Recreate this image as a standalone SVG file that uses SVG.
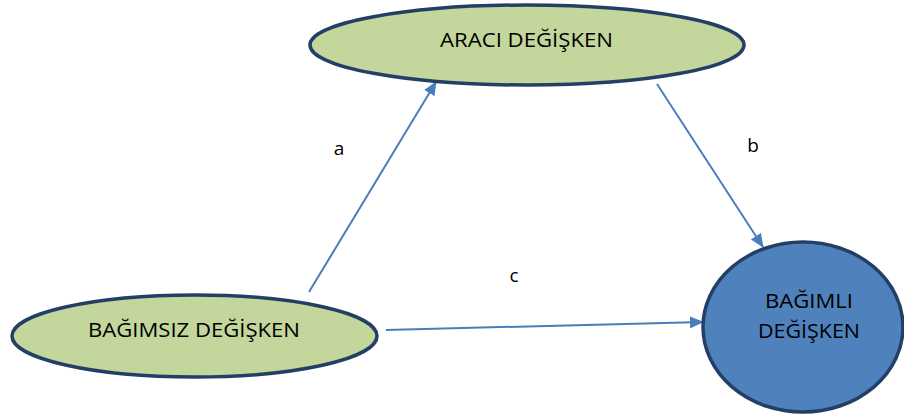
<svg xmlns="http://www.w3.org/2000/svg" width="904" height="414" viewBox="0 0 904 414">
  <style>
    .node { stroke: #243f66; stroke-width: 3.5; }
    .green { fill: #c3d69b; }
    .blue { fill: #4f81bd; }
    .label { font-family: "Open Sans", "Liberation Sans", sans-serif; font-size: 20px; fill: #000; text-anchor: middle; }
    .letter { font-size: 19px; }
    .edge { stroke: #4a7ebb; stroke-width: 2; fill: none; marker-end: url(#arrow); }
  </style>
  <defs>
    <marker id="arrow" markerUnits="userSpaceOnUse" markerWidth="14" markerHeight="12" viewBox="0 0 14 12" refX="13" refY="6" orient="auto">
      <path d="M0,0 L14,6 L0,12 Z" fill="#4a7ebb"/>
    </marker>
  </defs>

  <g id="connectors">
    <line class="edge" x1="309" y1="292" x2="436" y2="82"/>
    <line class="edge" x1="657" y1="84" x2="763" y2="247"/>
    <line class="edge" x1="386" y1="330" x2="703" y2="322"/>
    <text class="label letter" x="339" y="155">a</text>
    <text class="label letter" x="753" y="152">b</text>
    <text class="label letter" x="514" y="282">c</text>
  </g>

  <g id="araci">
    <ellipse class="node green" cx="527" cy="45" rx="217" ry="40"/>
    <text class="label" x="526.5" y="47" textLength="173" lengthAdjust="spacingAndGlyphs">ARACI DEĞİŞKEN</text>
  </g>

  <g id="bagimsiz">
    <ellipse class="node green" cx="194.5" cy="336" rx="182.5" ry="41"/>
    <text class="label" x="194" y="337" textLength="212" lengthAdjust="spacingAndGlyphs">BAĞIMSIZ DEĞİŞKEN</text>
  </g>

  <g id="bagimli">
    <ellipse class="node blue" cx="803" cy="327" rx="100" ry="85"/>
    <text class="label" x="809" y="308" textLength="88" lengthAdjust="spacingAndGlyphs">BAĞIMLI</text>
    <text class="label" x="809" y="338" textLength="102" lengthAdjust="spacingAndGlyphs">DEĞİŞKEN</text>
  </g>
</svg>
